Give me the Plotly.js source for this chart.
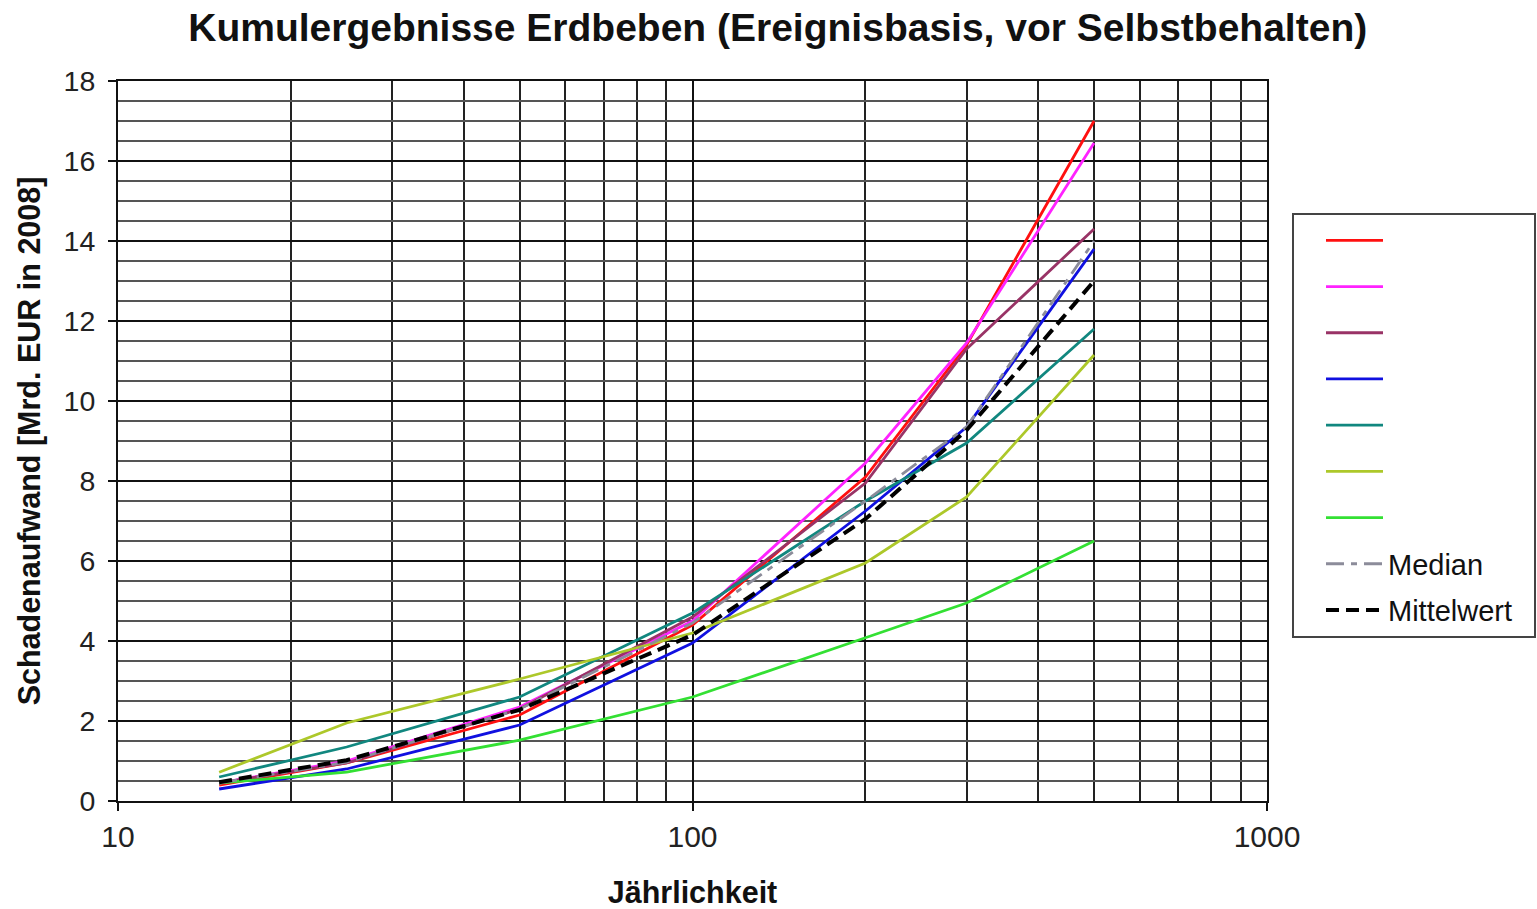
<!DOCTYPE html>
<html>
<head>
<meta charset="utf-8">
<script src="https://cdn.plot.ly/plotly-3.0.1.min.js"></script>
<style>html,body{margin:0;padding:0;background:#fff;}#chart{width:1537px;height:909px;}</style>
</head>
<body>
<div id="chart"></div>
<script>
// Return periods (Jährlichkeit)
const returnPeriods = [15, 25, 50, 100, 200, 300, 500];

// Loss estimates [Mrd. EUR in 2008] per model (unnamed in the legend)
const seriesRed        = [0.40, 0.95, 2.15, 4.40, 8.10, 11.40, 17.00];
const seriesMagenta    = [0.45, 1.00, 2.35, 4.50, 8.45, 11.45, 16.45];
const seriesPurple     = [0.45, 0.95, 2.30, 4.60, 7.95, 11.30, 14.30];
const seriesBlue       = [0.30, 0.80, 1.90, 3.95, 7.25, 9.35, 13.80];
const seriesTeal       = [0.60, 1.35, 2.60, 4.70, 7.50, 8.95, 11.80];
const seriesYellowGreen= [0.72, 1.95, 3.05, 4.20, 5.95, 7.60, 11.15];
const seriesGreen      = [0.45, 0.72, 1.52, 2.60, 4.08, 4.95, 6.50];
const seriesMedian     = [0.45, 0.97, 2.30, 4.45, 7.50, 9.35, 14.00];
const seriesMittelwert = [0.47, 1.02, 2.28, 4.15, 7.05, 9.27, 13.00];

const seriesNames = ['\u00a0', '\u00a0', '\u00a0', '\u00a0', '\u00a0', '\u00a0', '\u00a0', 'Median', 'Mittelwert\u00a0\u00a0'];
const seriesColors = ['#FF1010', '#FF22FF', '#993366', '#1010E0', '#11877F', '#ADC82A', '#33E033', '#8C8C9A', '#000000'];
const seriesData = [seriesRed, seriesMagenta, seriesPurple, seriesBlue, seriesTeal, seriesYellowGreen, seriesGreen, seriesMedian, seriesMittelwert];

const xTickVals = [10, 100, 1000];
const xTickText = ['10', '100', '1000'];

const traces = seriesData.map((vals, i) => {
  const line = {color: seriesColors[i], width: 2.8};
  if (i === 7) { line.dash = '18px,7px,6px,7px'; line.width = 2.8; }
  if (i === 8) { line.dash = '13px,7px'; line.width = 4; }
  return {
    type: 'scatter', mode: 'lines',
    x: returnPeriods, y: vals,
    name: seriesNames[i], legendgroup: 'g' + i,
    line: line, hoverinfo: 'x+y'
  };
});

const layout = {
  width: 1537, height: 909,
  margin: {l: 118, r: 270, t: 81, b: 108},
  paper_bgcolor: '#fff', plot_bgcolor: '#fff',
  font: {family: 'Liberation Sans, Arial, sans-serif', color: '#111'},
  title: {
    text: '<b>Kumulergebnisse Erdbeben (Ereignisbasis, vor Selbstbehalten)</b>',
    font: {size: 39, color: '#111'},
    xref: 'container', x: 0.506, xanchor: 'center',
    yref: 'container', y: 0.97, yanchor: 'middle'
  },
  xaxis: {
    type: 'log', range: [1, 3],
    tickvals: xTickVals, ticktext: xTickText,
    ticks: 'outside', ticklen: 8, tickwidth: 2, tickcolor: '#111',
    tickfont: {size: 30, color: '#222'},
    showgrid: true, gridcolor: '#111', gridwidth: 2,
    minor: {dtick: 'D1', showgrid: true, gridcolor: '#222', gridwidth: 2, ticks: ''},
    showline: true, linecolor: '#111', linewidth: 2, mirror: true,
    zeroline: false,
    title: {text: '<b>Jährlichkeit</b>', font: {size: 30.5, color: '#111'}, standoff: 34}
  },
  yaxis: {
    range: [0, 18], dtick: 2, tick0: 0,
    ticks: 'outside', ticklen: 8, tickwidth: 2, tickcolor: '#111',
    ticklabelstandoff: 7,
    tickfont: {size: 28.5, color: '#222'},
    showgrid: true, gridcolor: '#111', gridwidth: 2,
    minor: {dtick: 0.5, showgrid: true, gridcolor: '#555', gridwidth: 2, ticks: ''},
    showline: true, linecolor: '#111', linewidth: 2, mirror: true,
    zeroline: false,
    title: {text: '<b>Schadenaufwand [Mrd. EUR in 2008]</b>', font: {size: 30.5, color: '#111'}, standoff: 14}
  },
  showlegend: true,
  legend: {
    xref: 'container', x: 0.8406, xanchor: 'left',
    yref: 'container', y: 0.7657, yanchor: 'top',
    bgcolor: '#fff', bordercolor: '#444', borderwidth: 2,
    font: {size: 29, color: '#111'},
    tracegroupgap: 5.5, itemwidth: 57, indentation: 27
  }
};

Plotly.newPlot('chart', traces, layout, {displayModeBar: false, staticPlot: true});
</script>
</body>
</html>
